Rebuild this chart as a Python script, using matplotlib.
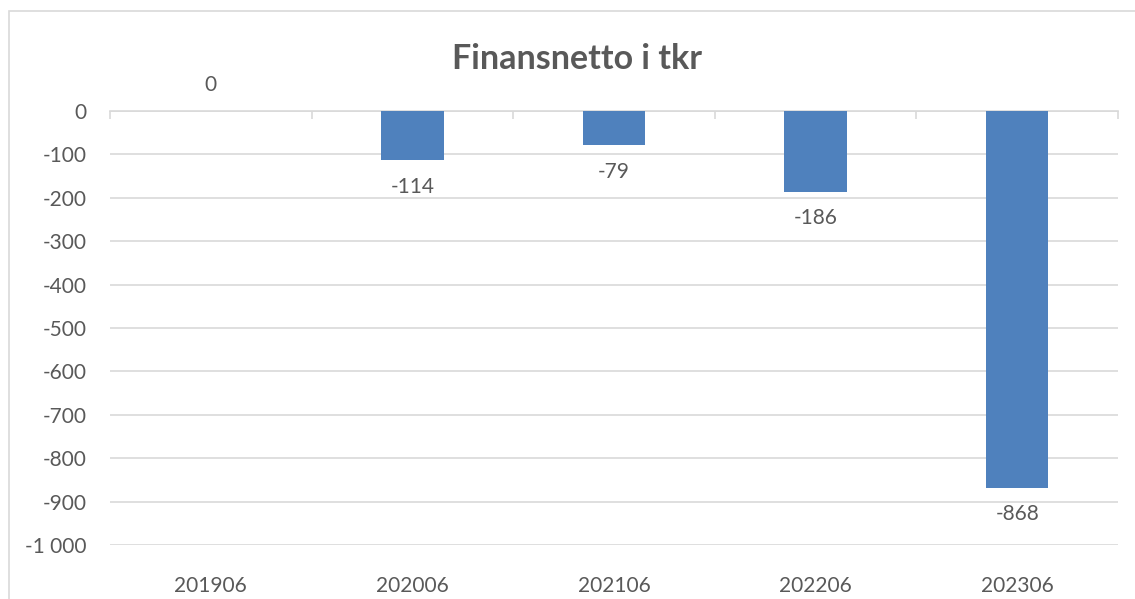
import matplotlib
matplotlib.use("Agg")
import matplotlib.pyplot as plt
from matplotlib.patches import Rectangle
from matplotlib.ticker import FuncFormatter, FixedLocator

periods = ["201906", "202006", "202106", "202206", "202306"]
finansnetto = [0, -114, -79, -186, -868]
y_ticks = list(range(0, -1001, -100))

BAR = "#4F81BD"
TEXT = "#595959"
GRID = "#D9D9D9"
FS = 15

plt.rcParams["font.family"] = ["Lato", "DejaVu Sans"]

fig = plt.figure(figsize=(11.35, 5.99), dpi=100)
fig.patch.set_facecolor("white")

# chart frame
fig.patches.append(Rectangle((9 / 1135, -0.1), 1.2, 1 - 11 / 599 + 0.1,
                             transform=fig.transFigure, fill=False,
                             edgecolor=GRID, linewidth=1.2))

ax = fig.add_axes([110 / 1135, 1 - 545 / 599, (1118 - 110) / 1135, (545 - 111) / 599])
x = list(range(len(periods)))
ax.bar(x, finansnetto, width=0.31, color=BAR, zorder=3)

ax.set_xlim(-0.5, len(periods) - 0.5)
ax.set_ylim(-1000, 0)
ax.set_yticks(y_ticks)
ax.yaxis.set_major_formatter(FuncFormatter(lambda v, p: f"{int(v):,}".replace(",", " ")))
ax.yaxis.grid(True, color=GRID, linewidth=1.2, zorder=0)
ax.tick_params(axis="y", length=0, pad=17, labelsize=FS, labelcolor=TEXT)

ax.set_xticks(x)
ax.set_xticklabels(periods)
ax.xaxis.set_minor_locator(FixedLocator([i - 0.5 for i in range(len(periods) + 1)]))
ax.tick_params(axis="x", which="major", bottom=False, top=False, labelbottom=True,
               pad=19, labelsize=FS, labelcolor=TEXT)
ax.tick_params(axis="x", which="minor", bottom=False, top=True, direction="in",
               length=6, width=1.2, color=GRID)

for s in ["left", "right", "bottom"]:
    ax.spines[s].set_visible(False)
ax.spines["top"].set_color(GRID)
ax.spines["top"].set_linewidth(1.2)

for xi, v in zip(x, finansnetto):
    if v >= 0:
        ax.annotate(f"{v}", (xi, v), xytext=(0, 19), textcoords="offset points",
                    ha="center", va="center", fontsize=FS, color=TEXT)
    else:
        ax.annotate(f"{v}", (xi, v), xytext=(0, -19), textcoords="offset points",
                    ha="center", va="center", fontsize=FS, color=TEXT)

fig.text(577 / 1135, 1 - 59 / 599, "Finansnetto i tkr", ha="center", va="center",
         fontsize=24.5, fontweight="bold", color=TEXT)

fig.savefig("out.png", dpi=100, facecolor="white")
